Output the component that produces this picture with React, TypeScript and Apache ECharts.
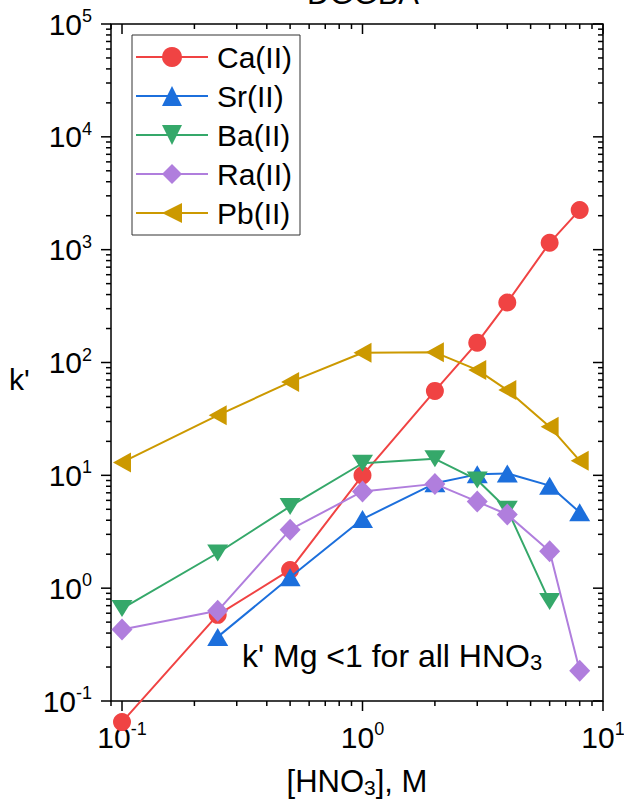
import React, { useEffect, useRef } from 'react';
import * as echarts from 'echarts';

// ---- data ----
const hno3 = [0.1, 0.25, 0.5, 1, 2, 3, 4, 6, 8];
const seriesNames = ['Ca(II)', 'Sr(II)', 'Ba(II)', 'Ra(II)', 'Pb(II)'];
const caValues = [0.065, 0.58, 1.45, 10, 56, 150, 340, 1150, 2250];
const srValues = [null, 0.37, 1.25, 4.1, 8.5, 10.2, 10.4, 8.1, 4.7];
const baValues = [0.66, 2.05, 5.3, 12.8, 14, 9.1, 5.0, 0.76, null];
const raValues = [0.43, 0.63, 3.3, 7.2, 8.4, 5.85, 4.5, 2.12, 0.185];
const pbValues = [13, 34, 67, 122, 123, 86, 57, 27, 13.5];

const xMajorTicks = [0.1, 1, 10];
const xMinorTicks = [0.09, 0.2, 0.3, 0.4, 0.5, 0.6, 0.7, 0.8, 0.9, 2, 3, 4, 5, 6, 7, 8, 9];
const yMajorTicks = [0.1, 1, 10, 100, 1000, 10000, 100000];
const yDecades = [0.1, 1, 10, 100, 1000, 10000];
const minorMultipliers = [2, 3, 4, 5, 6, 7, 8, 9];

const X_MIN = 0.09;
const X_MAX = 10;
const Y_MIN = 0.1;
const Y_MAX = 100000;

const titleText = 'DGGBA';
const yTitle = "k'";
const noteText = "k' Mg <1 for all HNO";
const noteSub = '3';

const COLORS = ['#F04343', '#1C6FDC', '#35A86A', '#B07EDD', '#CC9900'];
const FONT = "'Liberation Sans', Arial, Helvetica, sans-serif";

const SYMBOLS = [
  { symbol: 'circle', size: 18 },
  { symbol: 'triangle', size: [21, 18] },
  { symbol: 'path://M0,0 L2,0 L1,1.6 Z', size: [21, 17] },
  { symbol: 'diamond', size: [21, 22] },
  { symbol: 'path://M0,1 L1.8,0 L1.8,2 Z', size: [18, 20] },
];

const allValues = [caValues, srValues, baValues, raValues, pbValues];

export default function App() {
  const ref = useRef<HTMLDivElement>(null);
  useEffect(() => {
    const chart = echarts.init(ref.current as HTMLDivElement, null, { renderer: 'svg' });

    const tickRich = {
      b: { fontSize: 30, lineHeight: 34, fontFamily: FONT, color: '#000' },
      s: { fontSize: 18, lineHeight: 18, verticalAlign: 'top', fontFamily: FONT, color: '#000' },
    };
    const fmt = (v: number) => {
      const e = Math.log10(v);
      const r = Math.round(e);
      if (Math.abs(e - r) > 1e-6) return '';
      return `{b|10}{s|${r}}`;
    };

    const yMinor: number[] = [];
    yDecades.forEach((d) => minorMultipliers.forEach((m) => yMinor.push(+(d * m).toPrecision(6))));

    const xTickData = [
      ...xMajorTicks.map((v) => [v, 1, 1]),
      ...xMinorTicks.map((v) => [v, 1, 2]),
    ];
    const yTickData = [
      ...yMajorTicks.map((v) => [1, v, 1]),
      ...yMinor.map((v) => [1, v, 2]),
    ];

    const tickStyle = { stroke: '#000', lineWidth: 1.5 };

    const lineSeries = seriesNames.map((name, i) => ({
      type: 'line',
      name,
      data: hno3
        .map((x, k) => [x, allValues[i][k]])
        .filter((p) => p[1] !== null && p[1] !== undefined),
      symbol: SYMBOLS[i].symbol,
      symbolSize: SYMBOLS[i].size,
      clip: false,
      color: COLORS[i],
      itemStyle: { color: COLORS[i], opacity: 1 },
      lineStyle: { color: COLORS[i], width: 2 },
      emphasis: { disabled: true },
      z: 3 + i,
    }));

    const option: any = {
      animation: false,
      backgroundColor: '#fff',
      textStyle: { fontFamily: FONT },
      grid: {
        left: 111,
        top: 24,
        right: 21,
        bottom: 103,
        show: true,
        borderColor: '#000',
        borderWidth: 1.5,
        backgroundColor: 'transparent',
        containLabel: false,
        outerBoundsMode: 'none',
      },
      legend: {
        data: seriesNames,
        left: 132,
        top: 35,
        orient: 'vertical',
        itemWidth: 72,
        itemHeight: 25,
        itemGap: 9,
        padding: [7, 8, 7, 3],
        borderColor: '#333',
        borderWidth: 1,
        backgroundColor: '#fff',
        selectedMode: false,
        textStyle: { fontSize: 30, lineHeight: 30, color: '#000', fontFamily: FONT, padding: [0, 0, 0, 4] },
      },
      xAxis: {
        type: 'log',
        logBase: 10,
        min: X_MIN,
        max: X_MAX,
        axisLine: { show: false },
        axisTick: { show: false },
        splitLine: { show: false },
        minorTick: { show: false },
        axisLabel: { margin: 19, formatter: fmt, rich: tickRich, hideOverlap: false },
        name: '{n|[HNO}{sub|3}{n|], M}',
        nameLocation: 'middle',
        nameGap: 63,
        nameTextStyle: {
          rich: {
            n: { fontSize: 31, lineHeight: 34, fontFamily: FONT, color: '#000' },
            sub: { fontSize: 21, lineHeight: 18, verticalAlign: 'bottom', fontFamily: FONT, color: '#000' },
          },
        },
      },
      yAxis: {
        type: 'log',
        logBase: 10,
        min: Y_MIN,
        max: Y_MAX,
        axisLine: { show: false },
        axisTick: { show: false },
        splitLine: { show: false },
        minorTick: { show: false },
        axisLabel: { margin: 19, formatter: fmt, rich: tickRich, hideOverlap: false },
      },
      graphic: [
        {
          type: 'text',
          x: 363,
          y: -24,
          silent: true,
          style: {
            text: titleText,
            fontSize: 31,
            lineHeight: 34,
            fontFamily: FONT,
            fill: '#000',
            align: 'center',
            verticalAlign: 'top',
          },
        },
        {
          type: 'text',
          x: 9,
          y: 362,
          silent: true,
          style: {
            text: yTitle,
            fontSize: 30,
            lineHeight: 34,
            fontFamily: FONT,
            fill: '#000',
            align: 'left',
            verticalAlign: 'top',
          },
        },
        {
          type: 'text',
          x: 242,
          y: 639,
          silent: true,
          z: 20,
          style: {
            text: `{n|${noteText}}{sub|${noteSub}}`,
            fill: '#000',
            align: 'left',
            verticalAlign: 'top',
            rich: {
              n: { fontSize: 32, lineHeight: 34, fontFamily: FONT, fill: '#000' },
              sub: { fontSize: 22, lineHeight: 18, verticalAlign: 'bottom', fontFamily: FONT, fill: '#000' },
            },
          },
        },
      ],
      series: [
        ...lineSeries,
        {
          type: 'custom',
          name: 'xTicks',
          silent: true,
          data: xTickData,
          z: 20,
          renderItem: (params: any, api: any) => {
            const v = api.value(0);
            const len = api.value(2) === 1 ? 10 : 5;
            const pb = api.coord([v, Y_MIN]);
            const pt = api.coord([v, Y_MAX]);
            return {
              type: 'group',
              children: [
                { type: 'line', shape: { x1: pb[0], y1: pb[1], x2: pb[0], y2: pb[1] + len }, style: tickStyle },
                { type: 'line', shape: { x1: pt[0], y1: pt[1], x2: pt[0], y2: pt[1] + len }, style: tickStyle },
              ],
            };
          },
        },
        {
          type: 'custom',
          name: 'yTicks',
          silent: true,
          data: yTickData,
          z: 20,
          renderItem: (params: any, api: any) => {
            const v = api.value(1);
            const len = api.value(2) === 1 ? 10 : 5;
            const pl = api.coord([X_MIN, v]);
            const pr = api.coord([X_MAX, v]);
            return {
              type: 'group',
              children: [
                { type: 'line', shape: { x1: pl[0] - len, y1: pl[1], x2: pl[0], y2: pl[1] }, style: tickStyle },
                { type: 'line', shape: { x1: pr[0] - len, y1: pr[1], x2: pr[0], y2: pr[1] }, style: tickStyle },
              ],
            };
          },
        },
      ],
    };

    chart.setOption(option);
    return () => chart.dispose();
  }, []);

  return (
    <div
      ref={ref}
      style={{ position: 'absolute', left: 0, top: 0, width: 624, height: 804, background: '#fff' }}
    />
  );
}
